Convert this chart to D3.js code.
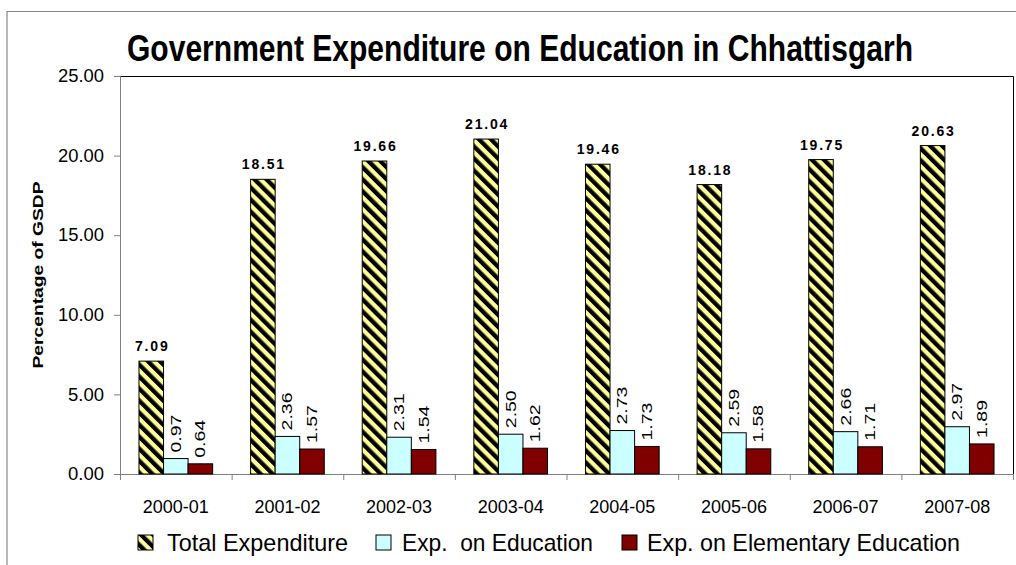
<!DOCTYPE html>
<html><head><meta charset="utf-8">
<script src="https://cdn.jsdelivr.net/npm/d3@7"></script>
<style>body{margin:0;background:#fff}svg{display:block}svg text{font-family:"Liberation Sans",Arial,sans-serif}</style>
</head><body>
<svg id="c" width="1016" height="565"></svg>
<script>
const categories = ["2000-01","2001-02","2002-03","2003-04","2004-05","2005-06","2006-07","2007-08"];
const seriesNames = ["Total Expenditure","Exp.  on Education","Exp. on Elementary Education"];
const totalExp = [7.09,18.51,19.66,21.04,19.46,18.18,19.75,20.63];
const eduExp = [0.97,2.36,2.31,2.50,2.73,2.59,2.66,2.97];
const elemExp = [0.64,1.57,1.54,1.62,1.73,1.58,1.71,1.89];
const yTicks = [0,5,10,15,20,25];
const titleText = "Government Expenditure on Education in Chhattisgarh";
const yTitle = "Percentage of GSDP";

const FF = '"Liberation Sans", Arial, sans-serif';
const svg = d3.select("#c");
const L=120,R=1013,T=76,B=474;
const defs = svg.append("defs");
const pat = defs.append("pattern").attr("id","hatch").attr("patternUnits","userSpaceOnUse")
  .attr("width",8.5).attr("height",8.5).attr("patternTransform","rotate(-45)");
pat.append("rect").attr("width",8.5).attr("height",8.5).attr("fill","#FFFF99");
pat.append("rect").attr("x",0).attr("width",4.3).attr("height",8.5).attr("fill","#000");

svg.append("path").attr("d","M7,565 V11.5 H1016").attr("fill","none").attr("stroke","#888").attr("stroke-width",1.2);

const x0 = d3.scaleBand().domain(categories).range([L,R]).padding(0);
const x1 = d3.scaleBand().domain(seriesNames).range([0,x0.bandwidth()*0.66]).padding(0);
const off = x0.bandwidth()*0.17;
const y = d3.scaleLinear().domain([0,25]).range([B,T]);

svg.append("path").attr("d",`M${L},${T+0.5} H${R+0.5} V${B}`).attr("fill","none").attr("stroke","#000").attr("stroke-width",1);

const ya = svg.append("g").attr("transform",`translate(${L},0)`)
  .call(d3.axisLeft(y).tickValues(yTicks).tickSize(6).tickPadding(10).tickFormat(d3.format(".2f")));
ya.attr("font-family",FF);
ya.select(".domain").attr("stroke","#808080");
ya.selectAll(".tick line").attr("stroke","#808080");
ya.selectAll("text").attr("font-size",18).attr("fill","#000").attr("font-family",FF)
  .attr("textLength",46).attr("lengthAdjust","spacingAndGlyphs")
  .filter(d=>d<10).attr("textLength",36);

const xa = svg.append("g").attr("transform",`translate(0,${B})`)
  .call(d3.axisBottom(x0).tickSize(0).tickPadding(26));
xa.attr("font-family",FF);
xa.select(".domain").attr("stroke","#808080");
xa.selectAll("text").attr("font-size",18).attr("fill","#000").attr("font-family",FF)
  .attr("textLength",66).attr("lengthAdjust","spacingAndGlyphs");
const bounds = categories.map(c=>x0(c)).concat([R]);
xa.selectAll(".bt").data(bounds).enter().append("line").attr("class","bt")
  .attr("x1",d=>d+0.5).attr("x2",d=>d+0.5).attr("y1",0).attr("y2",6).attr("stroke","#808080");

const series = [
  {name:seriesNames[0],vals:totalExp,fill:"url(#hatch)"},
  {name:seriesNames[1],vals:eduExp,fill:"#CCFFFF"},
  {name:seriesNames[2],vals:elemExp,fill:"#800000"}
];
series.forEach((s,si)=>{
  svg.append("g").selectAll("rect").data(s.vals).enter().append("rect")
    .attr("x",(d,i)=>x0(categories[i])+off+x1(s.name))
    .attr("y",d=>y(d)).attr("width",x1.bandwidth()).attr("height",d=>B-y(d))
    .attr("fill",s.fill).attr("stroke","#000").attr("stroke-width",1);
});
svg.append("g").selectAll("text").data(totalExp).enter().append("text")
  .attr("x",(d,i)=>x0(categories[i])+off+x1(seriesNames[0])+x1.bandwidth()/2+1)
  .attr("y",d=>y(d)-10).attr("text-anchor","middle").attr("font-weight","bold")
  .attr("font-size",14).attr("letter-spacing",1.8).text(d=>d.toFixed(2));
[[eduExp,1],[elemExp,2]].forEach(([vals,si])=>{
  svg.append("g").selectAll("text").data(vals).enter().append("text")
    .attr("transform",(d,i)=>`translate(${x0(categories[i])+off+x1(seriesNames[si])+x1.bandwidth()/2+5},${y(d)-6}) rotate(-90) scale(1.3,1)`)
    .attr("font-size",15).text(d=>d.toFixed(2));
});

svg.append("text").attr("transform","translate(520,61) scale(1,1.15)").attr("text-anchor","middle")
  .attr("font-size",32).attr("font-weight","bold")
  .attr("textLength",786).attr("lengthAdjust","spacingAndGlyphs").text(titleText);
svg.append("text").attr("transform",`translate(43,${(T+B)/2}) rotate(-90)`).attr("text-anchor","middle")
  .attr("font-size",15).attr("font-weight","bold").attr("textLength",187).attr("lengthAdjust","spacingAndGlyphs").text(yTitle);

const leg = [
  {sx:138,tx:167,tw:181,fill:"url(#hatch)"},
  {sx:376,tx:402,tw:191,fill:"#CCFFFF"},
  {sx:622,tx:647,tw:313,fill:"#800000"}
];
const lg = svg.append("g");
leg.forEach((l,i)=>{
  lg.append("rect").attr("x",l.sx).attr("y",535).attr("width",15).attr("height",15).attr("fill",l.fill).attr("stroke","#000");
  lg.append("text").attr("x",l.tx).attr("y",551).attr("font-size",24).attr("textLength",l.tw).attr("lengthAdjust","spacingAndGlyphs")
    .style("white-space","pre").text(seriesNames[i]);
});
</script>
</body></html>
